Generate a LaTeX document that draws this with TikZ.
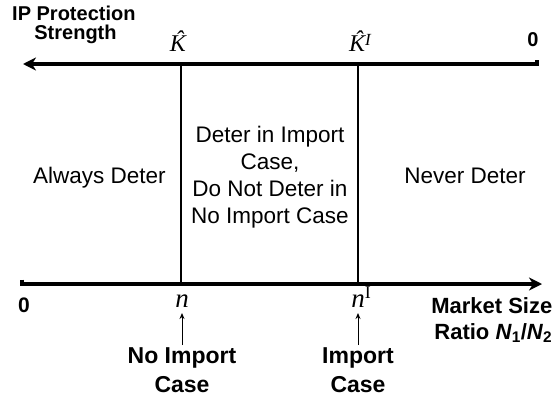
\documentclass[tikz,border=0pt]{standalone}
\usepackage{fontspec}
\setmainfont{Liberation Sans}
\newfontfamily\tms{Liberation Serif}
\usetikzlibrary{arrows.meta}
\newcommand{\hatK}{\accent"02C6 K}
\begin{document}
\begin{tikzpicture}[x=1pt,y=-1pt,
  axis/.style={line width=3.2pt},
  divider/.style={line width=1.3pt},
  pointer/.style={line width=1pt,-{Stealth[length=6pt,width=5pt]}},
  lbl/.style={font=\fontsize{20}{26}\selectfont\bfseries,align=center,inner sep=0pt,anchor=base},
  big/.style={font=\fontsize{23}{29}\selectfont\bfseries,align=center,inner sep=0pt,anchor=base},
  region/.style={font=\fontsize{22.5}{27}\selectfont,align=center,inner sep=0pt,anchor=base},
  mth/.style={font=\fontsize{24}{26}\selectfont\tms\itshape,inner sep=0pt,anchor=base}]
\useasboundingbox (0,0) rectangle (553,404);
% axes
\coordinate (tl) at (23,64);
\coordinate (tr) at (537,64);
\coordinate (trk) at (537,60);
\coordinate (bl) at (22,284);
\coordinate (blk) at (22,279.5);
\coordinate (br) at (542,284);
\draw[axis,-{Stealth[length=13pt,width=13pt,inset=4pt]}] (trk) -- (tr) -- (tl);
\draw[axis,-{Stealth[length=13pt,width=13pt,inset=4pt]}] (blk) -- (bl) -- (br);
% dividers
\coordinate (d1t) at (181,64);
\coordinate (d1b) at (181,284);
\coordinate (d2t) at (358,64);
\coordinate (d2b) at (358,284);
\draw[divider] (d1t) -- (d1b);
\draw[divider] (d2t) -- (d2b);
% top labels
\node[lbl,anchor=base west] (ipa) at (12,20.7) {IP Protection};
\node[lbl] (ipb) at (75.5,40) {Strength};
\node[mth] (kh) at (178,52) {\hatK};
\node[mth] (khi) at (360,52) {\hatK\raisebox{6pt}{\fontsize{17}{17}\selectfont I}};
\node[lbl] (z1) at (533,47) {0};
% bottom labels
\node[lbl,font=\fontsize{21}{24}\selectfont\bfseries] (z2) at (24,312) {0};
\node[mth,font=\fontsize{27}{28}\selectfont\tms\itshape] (n) at (182,307) {n};
\node[mth,font=\fontsize{27}{28}\selectfont\tms\itshape] (ni) at (361,307) {n\raisebox{9pt}{\fontsize{18}{18}\selectfont\upshape I}};
\node[big] (nic) at (182,392) {No Import\\Case};
\node[big] (ic) at (358,392) {Import\\Case};
\coordinate (p1s) at (182,345);
\coordinate (p1e) at (182,313);
\coordinate (p2s) at (358,345);
\coordinate (p2e) at (358,313);
\draw[pointer] (p1s) -- (p1e);
\draw[pointer] (p2s) -- (p2e);
\node[lbl,font=\fontsize{22}{26}\selectfont\bfseries,anchor=base east] (ms1) at (552.5,313) {Market Size};
\node[lbl,font=\fontsize{22}{26}\selectfont\bfseries,anchor=base east] (ms2) at (552.5,339) {Ratio \textit{N}\textsubscript{1}/\textit{N}\textsubscript{2}};
% regions
\node[region] (ad) at (99.5,183) {Always Deter};
\node[region] (mid) at (270,223) {Deter in Import\\Case,\\Do Not Deter in\\No Import Case};
\node[region] (nd) at (465,183) {Never Deter};
\end{tikzpicture}
\end{document}
